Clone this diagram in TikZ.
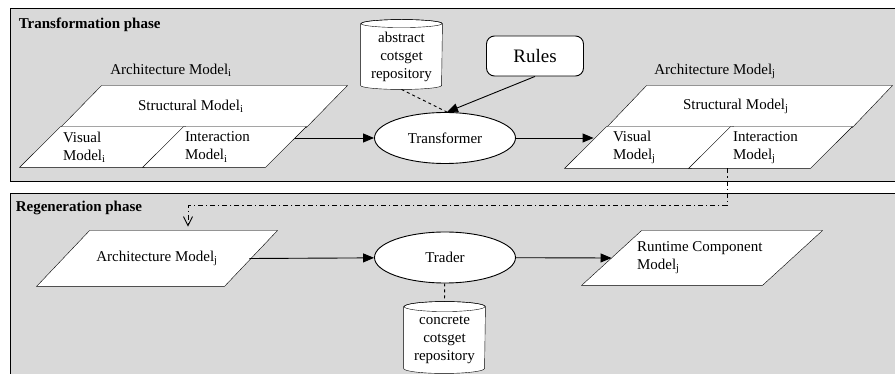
\documentclass[tikz,border=0pt]{standalone}
\usepackage{fontspec}
\setmainfont{Liberation Serif}
\usetikzlibrary{shapes.geometric}
\usetikzlibrary{arrows.meta}
\usetikzlibrary{backgrounds}
\definecolor{panelgray}{RGB}{217,217,217}
\newcommand{\paragram}[2]{\draw[fill=white] (#1.south west)--([xshift=#2]#1.north west)--(#1.north east)--([xshift=-#2]#1.south east)--cycle;}
\newcommand{\drum}[3]{\draw[fill=white] (#1.north west)--([yshift=#3]#1.south west) arc[start angle=180,end angle=360,x radius=#2,y radius=#3]--(#1.north east) arc[start angle=0,end angle=180,x radius=#2,y radius=#3]--cycle;
  \draw (#1.north) ellipse[x radius=#2,y radius=#3];}

\begin{document}
\begin{tikzpicture}[x=1pt,y=-1pt,line width=0.9pt,
  every node/.style={font=\fontsize{15}{18}\selectfont},
  panel/.style={draw,fill=panelgray},
  head/.style={anchor=west,font=\fontsize{15}{18}\selectfont\bfseries},
  para/.style={inner sep=0pt,align=flush left},
  proc/.style={draw,fill=white,ellipse,minimum width=141pt,minimum height=51pt},
  repo/.style={align=center,inner sep=0pt},
  arr/.style={-{Triangle[length=11pt,width=9pt]}},
  dd/.style={dash pattern=on 5pt off 3pt on 1.2pt off 3pt,-{Straight Barb[length=9pt,width=9pt]}}]
\useasboundingbox (0,0) rectangle (895,374);

\node[head](tphase) at (15,25) {Transformation phase};
\node[head](rphase) at (12,208) {Regeneration phase};

\node(archilbl) at (171,70) {Architecture Model\textsubscript{i}};
\node[para,minimum width=286pt,minimum height=41pt,text width=132pt](strui) at (204,106.5) {Structural Model\textsubscript{i}};
\node[para,minimum width=165pt,minimum height=40pt,text width=79pt](visi) at (102.5,147) {Visual\\Model\textsubscript{i}};
\node[para,minimum width=163pt,minimum height=40pt,text width=79pt](interi) at (224.5,147) {Interaction\\Model\textsubscript{i}};

\node[proc](trans) at (445,138) {Transformer};
\node[repo,minimum width=81pt,minimum height=65pt](absrep) at (401.5,56.5) {abstract\\cotsget\\repository};
\node[draw,fill=white,rounded corners=8pt,minimum width=97pt,minimum height=40pt,font=\fontsize{19}{22}\selectfont](rules) at (535,56) {Rules};
\coordinate(tin) at ([xshift=2pt]trans.north);

\node(archjlbl) at (715,71) {Architecture Model\textsubscript{j}};
\node[para,minimum width=285pt,minimum height=41pt,text width=133pt](struj) at (749.5,106.5) {Structural Model\textsubscript{j}};
\node[para,minimum width=168pt,minimum height=41pt,text width=72pt](visj) at (649,147.5) {Visual\\Model\textsubscript{j}};
\node[para,minimum width=163pt,minimum height=41pt,text width=75pt](intj) at (770.5,147.5) {Interaction\\Model\textsubscript{j}};

\node[para,minimum width=240pt,minimum height=55pt,align=center](archk) at (157,258.5) {Architecture Model\textsubscript{j}};
\node[proc](trader) at (445,257.5) {Trader};
\node[repo,minimum width=81pt,minimum height=66pt](conrep) at (444.5,340) {concrete\\cotsget\\repository};
\node[para,minimum width=240pt,minimum height=54pt,text width=130pt](runtime) at (702,258) {Runtime Component\\Model\textsubscript{j}};

\begin{scope}[on background layer]
\draw[panel] (10,8) rectangle (900,181);
\draw[panel] (10,193) rectangle (900,380);
\paragram{strui}{41pt} \paragram{visi}{41pt} \paragram{interi}{41pt}
\paragram{struj}{40pt} \paragram{visj}{42pt} \paragram{intj}{42pt}
\paragram{archk}{53pt} \paragram{runtime}{60pt}
\drum{absrep}{40.5pt}{4pt} \drum{conrep}{40.5pt}{5pt}
\end{scope}

\draw[arr] ([shift={(-11pt,9pt)}]interi.east)--(trans); \draw[arr] (trans)--([shift={(29pt,9.5pt)}]visj.west);
\draw[arr] (rules.south)--(tin); \draw[dashed] (absrep.south)--(tin);
\draw[dd] ([xshift=-43.5pt]intj.south)--++(0,37)-|([xshift=31pt,yshift=4pt]archk.north);
\draw[arr] ([xshift=-28pt]archk.east)--(trader); \draw[arr] (trader)--([xshift=30pt]runtime.west);
\draw[dashed] (trader)--([yshift=5pt]conrep.north);
\end{tikzpicture}
\end{document}
